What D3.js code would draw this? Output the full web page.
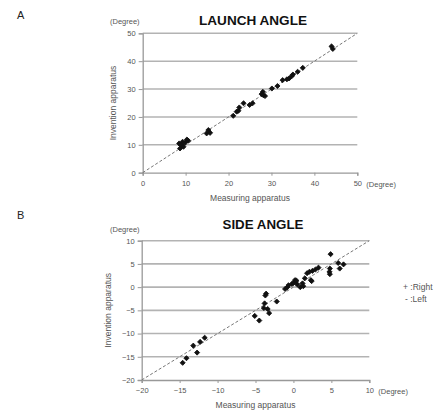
<!DOCTYPE html>
<html>
<head>
<meta charset="utf-8">
<script src="https://cdn.jsdelivr.net/npm/d3@7"></script>
<style>
  body { margin: 0; background: #fff; }
  svg text { font-family: Arial, "Liberation Sans", sans-serif; }
  .tick text { fill: #555; font-size: 7.5px; }
  .lbl { fill: #555; font-size: 8.5px; }
  .title { fill: #111; font-size: 12.5px; font-weight: bold; }
  .panel { fill: #222; font-size: 11px; }
</style>
</head>
<body>
<svg id="chart" width="441" height="418"></svg>
<script>
// launch angle: [measuring, invention]
var launchMeasured = [8.5, 8.7, 9.1, 9.5, 9.3, 9.9, 10.3, 10.6, 8.8, 15.3, 14.9, 15.7, 21.1, 22.3, 22.5, 21.9, 23.5, 24.9, 25.6, 28.0, 28.1, 28.5, 27.7, 30.1, 31.4, 32.6, 33.6, 34.1, 34.7, 35.0, 36.1, 37.3, 44.0, 44.3];
var launchInvention = [10.5, 8.7, 9.9, 9.3, 11.1, 10.8, 11.9, 11.5, 10.0, 15.3, 14.1, 14.3, 20.4, 22.2, 23.4, 21.9, 24.9, 24.3, 24.9, 29.0, 27.8, 27.5, 28.2, 30.2, 31.1, 33.2, 33.5, 33.8, 34.6, 35.2, 36.2, 37.6, 45.3, 44.4];

// side angle
var sideMeasured = [-14.6, -14.1, -13.2, -12.7, -12.3, -11.7, -5.1, -4.5, -3.9, -3.6, -3.7, -3.4, -3.2, -3.8, -2.2, -1.1, -0.8, -0.65, -0.2, 0.0, 0.2, 0.5, 0.4, 0.9, 1.2, 1.3, 1.5, 1.8, 2.1, 2.3, 2.4, 2.5, 2.9, 3.3, 4.75, 4.8, 4.8, 4.9, 5.9, 6.1, 6.6];
var sideInvention = [-16.3, -15.3, -12.6, -14.1, -11.8, -10.9, -6.2, -7.2, -4.5, -1.4, -1.8, -4.7, -5.6, -3.5, -3.1, -0.4, 0.0, 0.4, 0.7, 0.9, 1.5, 0.6, 1.4, 0.0, 0.8, 0.2, 1.9, 3.0, 3.3, 1.5, 1.3, 3.5, 3.8, 4.2, 3.3, 2.8, 4.0, 7.1, 5.2, 4.0, 4.9];

var launchTicks = [0, 10, 20, 30, 40, 50];
var sideTicks = [-20, -15, -10, -5, 0, 5, 10];
var sideXTicks = [-20, -15, -10, -5, 0, 5, 10];

var svg = d3.select("#chart");

function drawPanel(o) {
  var x = d3.scaleLinear().domain(o.xDomain).range([o.left, o.right]);
  var y = d3.scaleLinear().domain(o.yDomain).range([o.bottom, o.top]);
  var g = svg.append("g");

  // gridlines
  g.selectAll(".grid").data(o.yTicks.slice(1)).enter().append("line")
    .attr("x1", o.left).attr("x2", o.right)
    .attr("y1", function(d) { return y(d); }).attr("y2", function(d) { return y(d); })
    .attr("stroke", "#b3b3b3").attr("stroke-width", 1.6);

  var yAxis = g.append("g").attr("transform", "translate(" + o.left + ",0)")
    .call(d3.axisLeft(y).tickValues(o.yTicks).tickSize(4).tickPadding(3));
  var xAxis = g.append("g").attr("transform", "translate(0," + o.bottom + ")")
    .call(d3.axisBottom(x).tickValues(o.xTicks).tickSize(3).tickPadding(5));
  [yAxis, xAxis].forEach(function(a) {
    a.selectAll("path").attr("stroke", "#999").attr("stroke-width", 1.3);
    a.selectAll("line").attr("stroke", "#999");
  });

  // y = x reference
  g.append("line")
    .attr("x1", x(o.xDomain[0])).attr("y1", y(o.xDomain[0]))
    .attr("x2", x(o.xDomain[1])).attr("y2", y(o.xDomain[1]))
    .attr("stroke", "#777").attr("stroke-width", 1).attr("stroke-dasharray", "3,2");

  var sym = d3.symbol().type(d3.symbolSquare).size(13);
  g.selectAll(".pt").data(o.xs).enter().append("path")
    .attr("d", sym)
    .attr("transform", function(d, i) { return "translate(" + x(d) + "," + y(o.ys[i]) + ") rotate(45)"; })
    .attr("fill", "#111").attr("stroke", "#111").attr("stroke-width", 0.8).attr("stroke-linejoin", "round");

  g.append("text").attr("class", "panel").attr("x", 17).attr("y", o.panelY).text(o.panel);
  g.append("text").attr("class", "title").attr("text-anchor", "middle")
    .attr("x", o.titleX).attr("y", o.titleY)
    .attr("textLength", o.titleW).attr("lengthAdjust", "spacingAndGlyphs").text(o.title);
  g.append("text").attr("class", "lbl").attr("x", 110).attr("y", o.top - 9).style("font-size", "7.5px").text("(Degree)");
  g.append("text").attr("class", "lbl").attr("x", o.right + 9).attr("y", o.bottom + 14).style("font-size", "7.5px").text("(Degree)");
  g.append("text").attr("class", "lbl").attr("text-anchor", "middle")
    .attr("x", (o.left + o.right) / 2).attr("y", o.bottom + 28).text("Measuring apparatus");
  g.append("text").attr("class", "lbl").attr("text-anchor", "middle")
    .attr("transform", "translate(" + o.ylabX + "," + ((o.top + o.bottom) / 2) + ") rotate(-90)")
    .text("Invention apparatus");
}

drawPanel({
  panel: "A", panelY: 19, title: "LAUNCH ANGLE", titleX: 253, titleY: 25, titleW: 108,
  xDomain: [0, 50], yDomain: [0, 50], xTicks: launchTicks, yTicks: launchTicks,
  left: 142.7, right: 357.3, top: 33.3, bottom: 172.7, ylabX: 116,
  xs: launchMeasured, ys: launchInvention
});

drawPanel({
  panel: "B", panelY: 219, title: "SIDE ANGLE", titleX: 263, titleY: 229, titleW: 81,
  xDomain: [-20, 10], yDomain: [-20, 10], xTicks: sideXTicks, yTicks: sideTicks,
  left: 141.7, right: 369.3, top: 240.7, bottom: 380, ylabX: 111,
  xs: sideMeasured, ys: sideInvention
});

svg.append("text").attr("class", "lbl").attr("x", 403).attr("y", 290).text("+ :Right");
svg.append("text").attr("class", "lbl").attr("x", 405).attr("y", 302).text("- :Left");
</script>
</body>
</html>
